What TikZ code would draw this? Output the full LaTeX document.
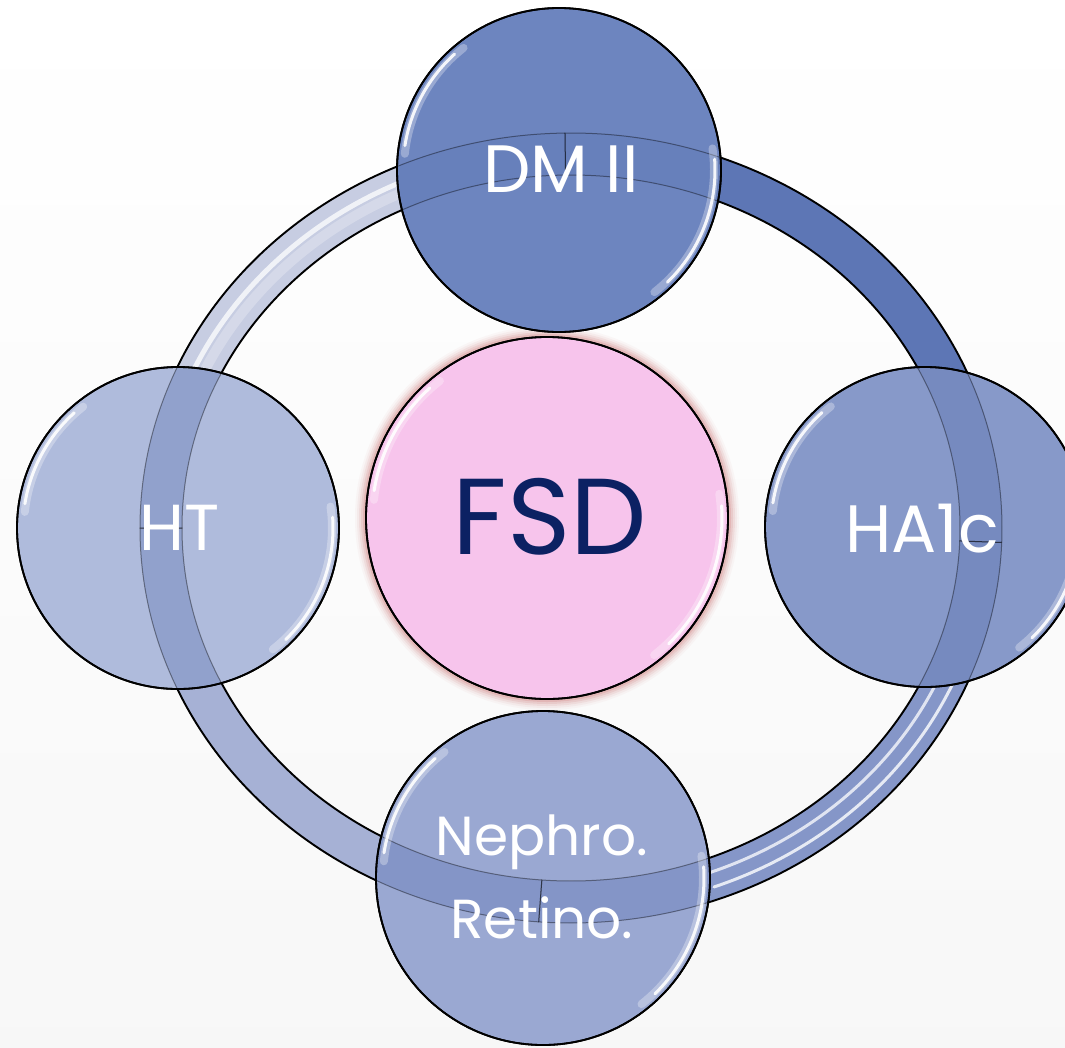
\documentclass[tikz,border=0pt]{standalone}
\usepackage{fontspec}
\setmainfont{Poppins}
\definecolor{cDM}{HTML}{6D85BF}
\definecolor{cHT}{HTML}{AFBBDC}
\definecolor{cHA}{HTML}{8799C9}
\definecolor{cNE}{HTML}{9AA8D2}
\definecolor{cFSD}{HTML}{F7C4EC}
\definecolor{cFSDtxt}{HTML}{0C2163}
\definecolor{cGlow}{HTML}{D07A7A}
\definecolor{segTR}{HTML}{5D76B5}
\definecolor{segBR}{HTML}{8596C8}
\definecolor{segBL}{HTML}{A6B1D5}
\definecolor{segTL}{HTML}{C7CDE2}
\definecolor{bandShade}{HTML}{3A55A0}
\tikzset{
  ringseg/.style 2 args={insert path={([shift={(571,528)}]#1:431 and 395)
      arc[start angle=#1,end angle=#2,x radius=431,y radius=395]
      -- ([shift={(571,528)}]#2:389 and 353)
      arc[start angle=#2,end angle=#1,x radius=389,y radius=353] -- cycle}},
  segline/.style={draw=black, line width=1.9pt, line join=round},
  bub/.style={circle, draw=black, line width=1.8pt, inner sep=0pt},
  hl/.style={draw=white, line width=3pt, line cap=round, opacity=0.9},
  hlsoft/.style={draw=white, line width=8pt, line cap=round, opacity=0.3},
  lbl/.style={text=white, inner sep=0pt, anchor=base},
  stripe/.style={draw=white, line cap=round},
}
\begin{document}
\begin{tikzpicture}[x=1pt,y=-1pt]
\useasboundingbox (0,0) rectangle (1065,1047);
\clip (0,0) rectangle (1065,1047);
\shade[top color=white, bottom color=black!3] (0,0) rectangle (1065,1047);
\coordinate (rc) at (571,528);

% ---- ring segments ----
\path[ringseg={269.2}{362.1}, fill=segTR, segline];
\path[ringseg={2.1}{94.3}, fill=segBR, segline];
\path[ringseg={94.3}{180}, fill=segBL, segline];
\path[ringseg={180}{269.2}, fill=segTL, segline];

% glossy stripes
\draw[stripe, line width=5pt, opacity=0.75] ([shift={(571,528)}]188:415 and 379) arc[start angle=188,end angle=266,x radius=415,y radius=379];
\draw[stripe, line width=10pt, opacity=0.25] ([shift={(571,528)}]188:405 and 369) arc[start angle=188,end angle=266,x radius=405,y radius=369];
\draw[stripe, line width=3pt, opacity=0.8] ([shift={(571,528)}]10:418 and 382) arc[start angle=10,end angle=70,x radius=418,y radius=382];
\draw[stripe, line width=3pt, opacity=0.75] ([shift={(571,528)}]10:403 and 367) arc[start angle=10,end angle=80,x radius=403,y radius=367];

% ---- centre circle with glow ----
\foreach \k/\o in {11/0.05,9/0.08,7/0.12,5/0.17,3/0.24}{
  \fill[cGlow, opacity=\o] (547,518) circle[radius=181+\k];
}
\node[bub, fill=cFSD, minimum size=362pt] (fsd) at (547,518) {};

% ---- outer circles ----
\node[bub, fill=cDM, minimum size=324pt] (dm) at (559,170) {};
\node[bub, fill=cHT, minimum size=322pt] (ht) at (178,528) {};
\node[bub, fill=cHA, minimum size=320pt] (ha) at (925,527) {};
\node[bub, fill=cNE, minimum size=334pt] (ne) at (543,878) {};

% ring seen through the outer circles
\foreach \cx/\cy/\r/\op in {559/170/161/0.10, 178/528/160/0.25, 925/527/159/0.22, 543/878/166/0.22}{
  \begin{scope}
    \clip (\cx,\cy) circle[radius=\r];
    \fill[bandShade, opacity=\op, even odd rule] (rc) ellipse[x radius=431,y radius=395] (rc) ellipse[x radius=389,y radius=353];
    \path[ringseg={269.2}{362.1}, draw=black, line width=1pt, opacity=0.4];
    \path[ringseg={2.1}{94.3}, draw=black, line width=1pt, opacity=0.4];
    \path[ringseg={94.3}{180}, draw=black, line width=1pt, opacity=0.4];
    \path[ringseg={180}{269.2}, draw=black, line width=1pt, opacity=0.4];
  \end{scope}
}

% ---- highlights ----
\foreach \cx/\cy/\r in {559/170/162, 178/528/161, 925/527/160, 543/878/167, 547/518/181}{
  \pgfmathsetmacro\rr{\r-6}
  \pgfmathsetmacro\rs{\r-7}
  \draw[hlsoft] ([shift={(\cx,\cy)}]186:\rs) arc[start angle=186,end angle=232,radius=\rs];
  \draw[hl] ([shift={(\cx,\cy)}]189:\rr) arc[start angle=189,end angle=228,radius=\rr];
  \draw[hlsoft] ([shift={(\cx,\cy)}]352:\rs) arc[start angle=352,end angle=412,radius=\rs];
  \draw[hl] ([shift={(\cx,\cy)}]356:\rr) arc[start angle=356,end angle=406,radius=\rr];
}
% circle outlines on top
\foreach \cx/\cy/\r in {559/170/162, 178/528/161, 925/527/160, 543/878/167, 547/518/181}{
  \draw[black, line width=1.8pt] (\cx,\cy) circle[radius=\r];
}

% ---- labels ----
\node[lbl, font=\fontsize{67}{67}\selectfont] (dmt) at (561,192) {DM II};
\node[lbl, font=\fontsize{65}{65}\selectfont] (htt) at (180,550) {HT};
\node[lbl, font=\fontsize{67}{67}\selectfont] (hat) at (922,552) {HA1c};
\node[lbl, text=cFSDtxt, font=\fontsize{108}{108}\selectfont] (fsdt) at (550,554) {FSD};
\node[lbl, font=\fontsize{55}{55}\selectfont] (nept) at (542,855) {Nephro.};
\node[lbl, font=\fontsize{55}{55}\selectfont] (rett) at (542,938) {Retino.};
\end{tikzpicture}
\end{document}
